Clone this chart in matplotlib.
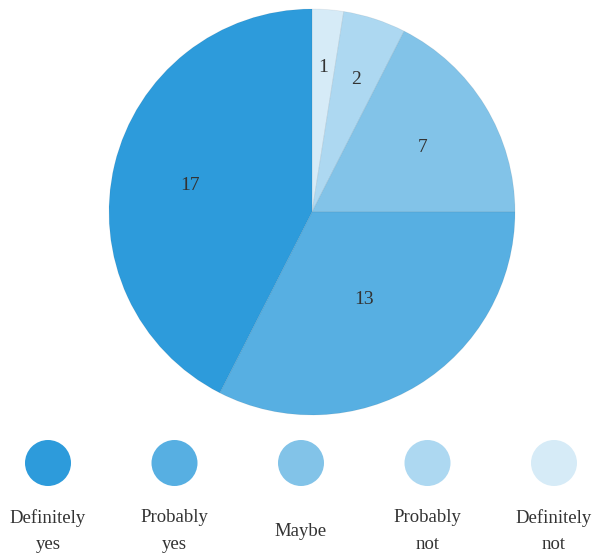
import numpy as np
import matplotlib.pyplot as plt
from matplotlib.patches import Ellipse

# data
categories = ["Definitely yes", "Probably yes", "Maybe", "Probably not", "Definitely not"]
legend_labels = ["Definitely\nyes", "Probably\nyes", "Maybe", "Probably\nnot", "Definitely\nnot"]
counts = [17, 13, 7, 2, 1]
colors = ["#2D9BDB", "#57AFE2", "#82C3E8", "#ADD8F1", "#D6EBF7"]

# label radial position as fraction of radius (per slice)
label_r = [0.62, 0.49, 0.64, 0.70, 0.73]

W, H = 598, 557
fig = plt.figure(figsize=(W / 100, H / 100), dpi=100)
ax = fig.add_axes([0, 0, 1, 1])

cx, cy, R = 312, 212, 203

# pie drawn clockwise from top; reverse order so smallest slice starts at 12 o'clock
vals = counts[::-1]
cols = colors[::-1]
rl = label_r[::-1]
# y axis is inverted, so counterclock=True in data coords shows clockwise on screen
wedges, _ = ax.pie(vals, colors=cols, startangle=-90, counterclock=True,
                   center=(cx, cy), radius=R, frame=True,
                   wedgeprops=dict(linewidth=0.6, edgecolor=(0, 0, 0, 0.06)))
ax.set_xlim(0, W)
ax.set_ylim(H, 0)
ax.set_aspect("equal")
ax.axis("off")

serif = ["Liberation Serif", "DejaVu Serif"]
for w, v, r in zip(wedges, vals, rl):
    ang = np.deg2rad((w.theta1 + w.theta2) / 2)
    x = cx + r * R * np.cos(ang)
    y = cy + r * R * np.sin(ang) + 3
    ax.text(x, y, str(v), ha="center", va="center", fontsize=14,
            color="#333333", family=serif)

# legend row
xs = np.linspace(48, 554, len(categories))
for x, c, lab in zip(xs, colors, legend_labels):
    ax.add_patch(Ellipse((x, 463), 46, 46, facecolor=c, edgecolor="none"))
    ax.text(x, 531, lab, ha="center", va="center", fontsize=13.5,
            color="#333333", family=serif, linespacing=1.75)

fig.savefig("out.png", dpi=100)
